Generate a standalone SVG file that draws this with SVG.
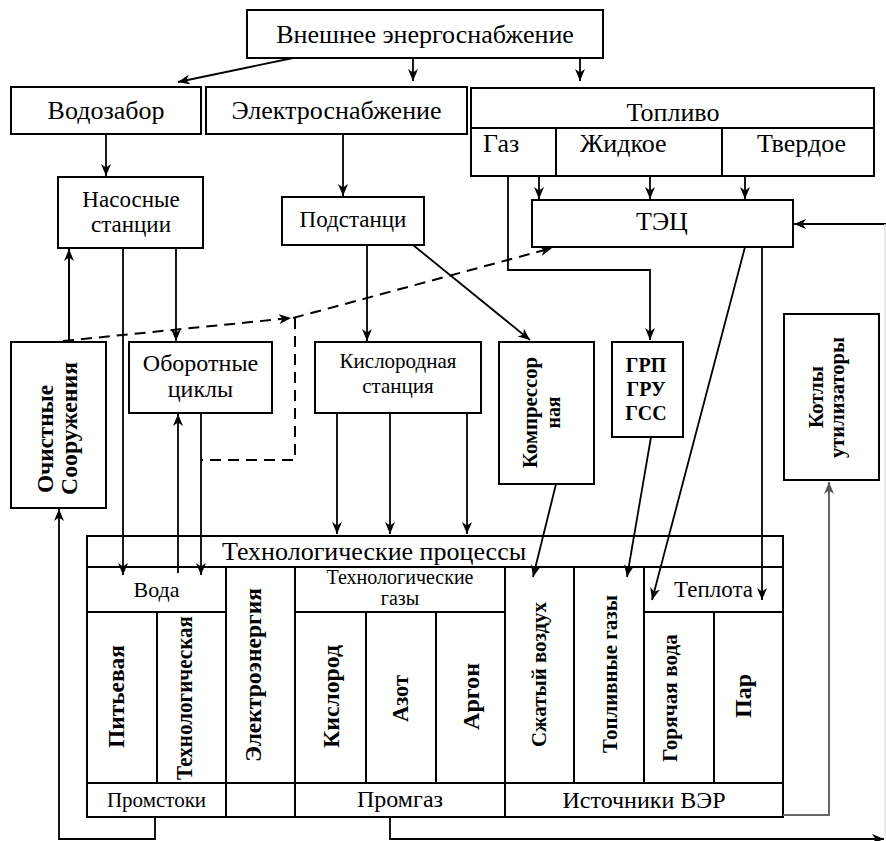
<svg xmlns="http://www.w3.org/2000/svg" width="886" height="841" viewBox="0 0 886 841">
<style>
text{font-family:"Liberation Serif","Times New Roman",serif;fill:#000}
.box{fill:#fff;stroke:#000;stroke-width:2}
.ln{fill:none;stroke:#000;stroke-width:2}
.c{fill:none;stroke:#000;stroke-width:1.8}
.d{fill:none;stroke:#000;stroke-width:2;stroke-dasharray:11 7}
.g{fill:none;stroke:#666;stroke-width:2}
.f{fill:none;stroke:#e2e2e2;stroke-width:1.5}
.s26{font-size:26px}
.s24{font-size:24px}
.s23{font-size:23px}
.s22{font-size:22px}
.s21{font-size:21px}
.s20{font-size:20px}
.b{font-weight:bold}
.m{text-anchor:middle}
</style>
<defs>
<marker id="ar" viewBox="0 0 12 10" refX="12" refY="5" markerWidth="12" markerHeight="10" markerUnits="userSpaceOnUse" orient="auto">
<path d="M0,0 L12,5 L0,10 L3.5,5 z" fill="#000"/>
</marker>
<marker id="arg" viewBox="0 0 12 10" refX="12" refY="5" markerWidth="12" markerHeight="10" markerUnits="userSpaceOnUse" orient="auto">
<path d="M0,0 L12,5 L0,10 L3.5,5 z" fill="#555"/>
</marker>
</defs>

<g id="vneshnee">
<rect class="box" x="247" y="10" width="356" height="48"/>
<text class="s26 m" x="425" y="43">Внешнее энергоснабжение</text>
</g>
<g id="vodozabor">
<rect class="box" x="11" y="87" width="190" height="47"/>
<text class="s26 m" x="106" y="119">Водозабор</text>
</g>
<g id="elektrosnabzhenie">
<rect class="box" x="206" y="87" width="261" height="47"/>
<text class="s26 m" x="336.5" y="119">Электроснабжение</text>
</g>
<g id="toplivo">
<rect class="box" x="471" y="88" width="403" height="88"/>
<path class="ln" d="M471,128 L874,128 M556,128 L556,176 M722,128 L722,176"/>
<text class="s26 m" x="673" y="121">Топливо</text>
<text class="s26" x="483" y="152">Газ</text>
<text class="s26" x="580" y="152">Жидкое</text>
<text class="s26" x="757" y="152">Твердое</text>
</g>
<g id="tec">
<rect class="box" x="532" y="200" width="261" height="47"/>
<text class="s26 m" x="662" y="230">ТЭЦ</text>
</g>
<g id="nasosnye">
<rect class="box" x="58" y="177" width="145" height="71"/>
<text class="s23 m" x="131" y="207">Насосные</text>
<text class="s23 m" x="131" y="232">станции</text>
</g>
<g id="podstanci">
<rect class="box" x="282" y="197" width="142" height="48"/>
<text class="s23 m" x="353" y="227">Подстанци</text>
</g>
<g id="ochistnye">
<rect class="box" x="11" y="342" width="95" height="166"/>
<text class="s24 b m" transform="translate(53,439) rotate(-90)" textLength="108" lengthAdjust="spacingAndGlyphs">Очистные</text>
<text class="s24 b m" transform="translate(77,428.5) rotate(-90)" textLength="133" lengthAdjust="spacingAndGlyphs">Сооружения</text>
</g>
<g id="oborotnye">
<rect class="box" x="129" y="342" width="143" height="71"/>
<text class="s24 m" x="200.5" y="371">Оборотные</text>
<text class="s24 m" x="200.5" y="397">циклы</text>
</g>
<g id="kislorodnaya">
<rect class="box" x="315" y="342" width="166" height="71"/>
<text class="s21 m" x="398" y="368">Кислородная</text>
<text class="s21 m" x="398" y="393">станция</text>
</g>
<g id="kompressornaya">
<rect class="box" x="499" y="342" width="95" height="142"/>
<text class="s22 b m" transform="translate(537,412.5) rotate(-90)" textLength="111" lengthAdjust="spacingAndGlyphs">Компрессор</text>
<text class="s22 b m" transform="translate(560,412.5) rotate(-90)" textLength="32" lengthAdjust="spacingAndGlyphs">ная</text>
</g>
<g id="grp">
<rect class="box" x="612" y="342" width="71" height="95"/>
<text class="s20 b m" x="646" y="372">ГРП</text>
<text class="s20 b m" x="646" y="396">ГРУ</text>
<text class="s20 b m" x="646" y="420">ГСС</text>
</g>
<g id="kotly">
<rect class="box" x="784" y="314" width="95" height="166"/>
<text class="s21 b m" transform="translate(823,397) rotate(-90)" textLength="62" lengthAdjust="spacingAndGlyphs">Котлы</text>
<text class="s21 b m" transform="translate(844,397.5) rotate(-90)" textLength="121" lengthAdjust="spacingAndGlyphs">утилизаторы</text>
</g>

<g id="tech-processes">
<rect class="box" x="87" y="536" width="696" height="281"/>
<path class="ln" d="M87,567 L783,567 M87,612 L226,612 M295,612 L505,612 M644,612 L783,612 M87,783 L783,783 M226,567 L226,817 M295,567 L295,817 M505,567 L505,817 M157,612 L157,783 M366,612 L366,783 M436,612 L436,783 M574,567 L574,783 M644,567 L644,783 M714,612 L714,783"/>
<text class="s26" x="222" y="560">Технологические процессы</text>
<text class="s22 m" x="156.5" y="597">Вода</text>
<text class="s20 m" x="400" y="584">Технологические</text>
<text class="s20 m" x="400" y="605">газы</text>
<text class="s23 m" x="713.5" y="597">Теплота</text>
<text class="s24 b m" transform="translate(123.5,696.5) rotate(-90)" textLength="103" lengthAdjust="spacingAndGlyphs">Питьевая</text>
<text class="s23 b m" transform="translate(191.5,698) rotate(-90)" textLength="164" lengthAdjust="spacingAndGlyphs">Технологическая</text>
<text class="s24 b m" transform="translate(261,675) rotate(-90)" textLength="174" lengthAdjust="spacingAndGlyphs">Электроэнергия</text>
<text class="s24 b m" transform="translate(339,696.5) rotate(-90)" textLength="103" lengthAdjust="spacingAndGlyphs">Кислород</text>
<text class="s24 b m" transform="translate(408,698.5) rotate(-90)" textLength="47" lengthAdjust="spacingAndGlyphs">Азот</text>
<text class="s24 b m" transform="translate(479,696.5) rotate(-90)" textLength="67" lengthAdjust="spacingAndGlyphs">Аргон</text>
<text class="s22 b m" transform="translate(546,674.5) rotate(-90)" textLength="145" lengthAdjust="spacingAndGlyphs">Сжатый воздух</text>
<text class="s22 b m" transform="translate(616.5,674) rotate(-90)" textLength="158" lengthAdjust="spacingAndGlyphs">Топливные газы</text>
<text class="s22 b m" transform="translate(677,698) rotate(-90)" textLength="128" lengthAdjust="spacingAndGlyphs">Горячая вода</text>
<text class="s24 b m" transform="translate(751,696) rotate(-90)" textLength="44" lengthAdjust="spacingAndGlyphs">Пар</text>
<text class="s21 m" x="156.5" y="807">Промстоки</text>
<text class="s24 m" x="400" y="807">Промгаз</text>
<text class="s24 m" x="644" y="808">Источники ВЭР</text>
</g>

<g id="connectors">
<path class="c" d="M293,58 L178,82" marker-end="url(#ar)"/>
<path class="c" d="M413,58 L413,81" marker-end="url(#ar)"/>
<path class="c" d="M580,58 L580,81" marker-end="url(#ar)"/>
<path class="c" d="M106,134 L106,176" marker-end="url(#ar)"/>
<path class="c" d="M343,134 L343,196" marker-end="url(#ar)"/>
<path class="c" d="M539,176 L539,199" marker-end="url(#ar)"/>
<path class="c" d="M650,176 L650,199" marker-end="url(#ar)"/>
<path class="c" d="M745,176 L745,199" marker-end="url(#ar)"/>
<path class="c" d="M508,176 L508,270 L650,270 L650,340" marker-end="url(#ar)"/>
<path class="c" d="M886,224 L794,224" marker-end="url(#ar)"/>
<path class="f" d="M885,224 L885,836"/>
<path class="ln" d="M69,342 L69,249" marker-end="url(#ar)"/>
<path class="c" d="M123,248 L123,575" marker-end="url(#ar)"/>
<path class="c" d="M176,248 L176,341" marker-end="url(#ar)"/>
<path class="c" d="M367,245 L367,341" marker-end="url(#ar)"/>
<path class="c" d="M413,245 L530,340" marker-end="url(#ar)"/>
<path class="d" d="M63,341 L291,318" marker-end="url(#ar)"/>
<path class="d" d="M293,318 L552,248" marker-end="url(#ar)"/>
<path class="d" d="M295,318 L295,460 L202,460"/>
<path class="c" d="M178,573 L178,414" marker-end="url(#ar)"/>
<path class="c" d="M201,413 L201,575" marker-end="url(#ar)"/>
<path class="c" d="M337,413 L337,534" marker-end="url(#ar)"/>
<path class="c" d="M390,413 L390,534" marker-end="url(#ar)"/>
<path class="c" d="M467,413 L467,534" marker-end="url(#ar)"/>
<path class="c" d="M556,484 L533,577" marker-end="url(#ar)"/>
<path class="c" d="M651,437 L627,577" marker-end="url(#ar)"/>
<path class="c" d="M745,247 L652,600" marker-end="url(#ar)"/>
<path class="c" d="M762,247 L762,600" marker-end="url(#ar)"/>
<path class="c" d="M155,817 L155,839 L59,839 L59,509" marker-end="url(#ar)"/>
<path class="c" d="M390,817 L390,839 L884,839" marker-end="url(#ar)"/>
<path class="g" d="M783,815 L829,815 L829,482" marker-end="url(#arg)"/>
</g>
</svg>
